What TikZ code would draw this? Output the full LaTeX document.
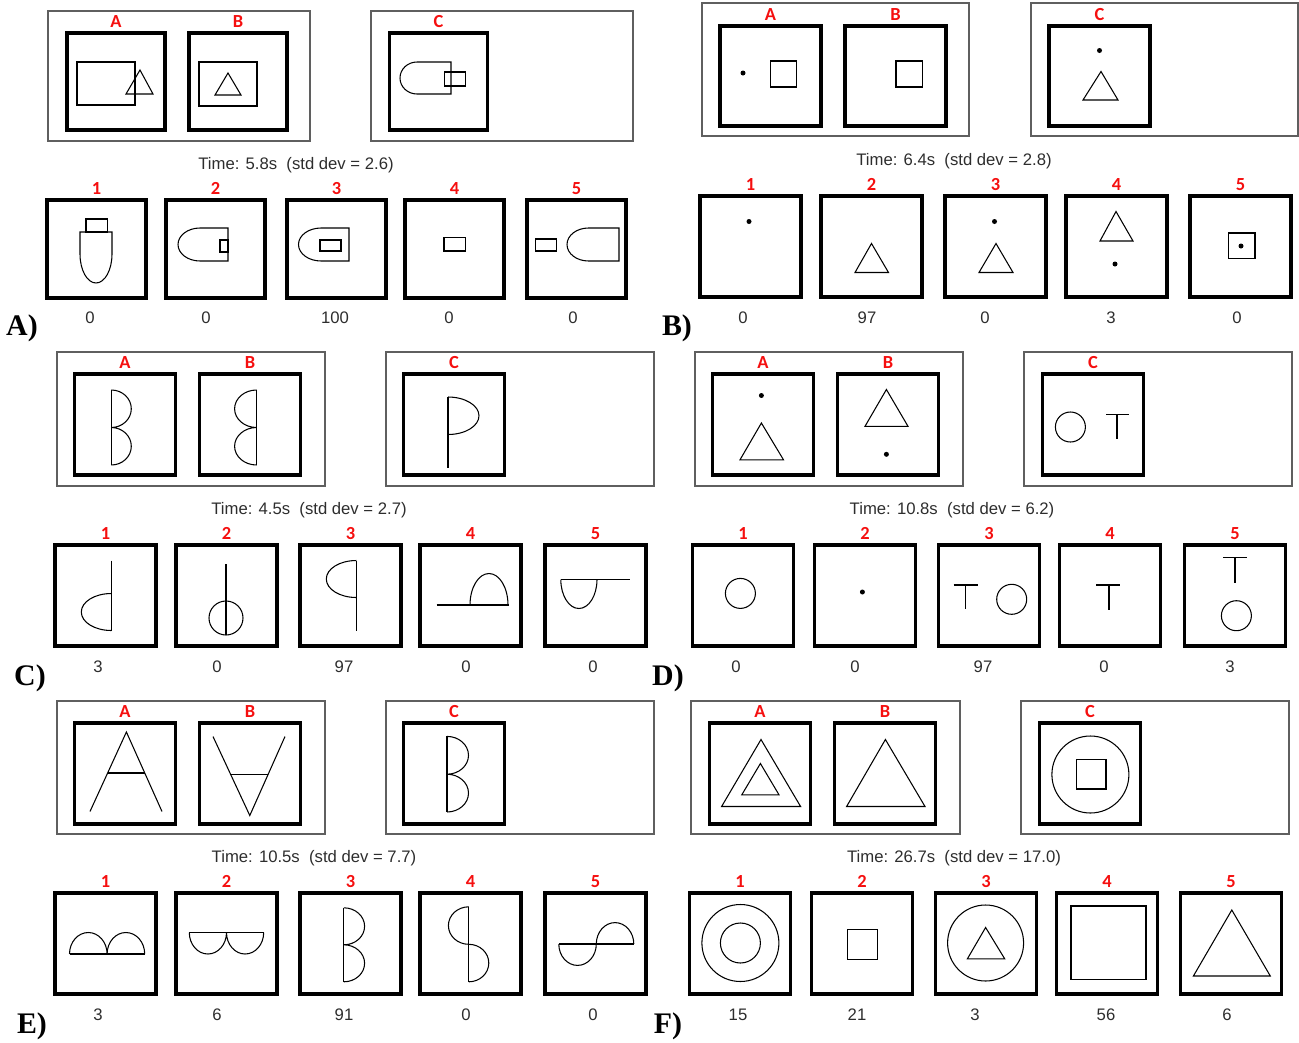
\documentclass[tikz,border=0pt]{standalone}
\usepackage{fontspec}
\setmainfont{Liberation Serif}
\setsansfont{Liberation Sans}
\newfontfamily\tagfont{Carlito}
\usetikzlibrary{calc, positioning}

\definecolor{tagred}{RGB}{245,15,15}
\definecolor{framegray}{RGB}{95,95,95}
\definecolor{textgray}{RGB}{45,45,45}

\tikzset{
  cell/.style={draw, line width=2.2pt, inner sep=0pt, outer sep=0pt,
    minimum width=2.02cm, minimum height=2.01cm},
  tag/.style={text=tagred, font=\tagfont\bfseries\fontsize{10.5}{11}\selectfont, inner sep=0pt},
  val/.style={text=textgray, font=\sffamily\fontsize{9.5}{11}\selectfont, inner sep=0pt},
  panel/.style={font=\rmfamily\bfseries\fontsize{17}{18}\selectfont, inner sep=0pt},
  frame/.style={draw=framegray, line width=0.7pt}
}

\begin{document}
\begin{tikzpicture}[x=0.02cm, y=-0.02cm, line width=0.6pt]
\useasboundingbox (0,0) rectangle (1299,1042);

% ================= A) =================
\draw[frame] (48,11) rectangle (310,141);
\draw[frame] (371,11) rectangle (633,141);
\foreach \n/\x in {a/116, b/238, c/438.5}
  \node[cell, minimum width=1.96cm, minimum height=1.94cm] (A-\n) at (\x,81.5) {};
\foreach \i/\x in {1/96.5, 2/215.5, 3/336.5, 4/454.5, 5/576.5}
  \node[cell, minimum width=1.98cm, minimum height=1.96cm] (A-\i) at (\x,249) {};
\foreach \n/\t in {a/A, b/B, c/C}
  \node[tag, above=0.1cm of A-\n] (A-l\n) {\t};
\foreach \i in {1,...,5}
  \node[tag, above=0.1cm of A-\i] (A-l\i) {\i};
\node[val] (A-time) at (296,165) {Time: 5.8s~~(std dev = 2.6)};
\foreach \i/\x/\v in {1/90/0, 2/206/0, 3/335/100, 4/449/0, 5/573/0}
  \node[val] (A-v\i) at (\x,318) {\v};
\node[panel] (A-name) at (22,328) {A)};

% problem
\begin{scope}[shift={(A-a.center)}]
  \draw (-39,-19.5) rectangle (19,23.5);
  \draw (24,-11.5) -- (37,12.5) -- (10,12.5) -- cycle;
\end{scope}
\begin{scope}[shift={(A-b.center)}]
  \draw (-39,-19.5) rectangle (19,24.5);
  \draw (-10,-8.5) -- (3,13.5) -- (-23,13.5) -- cycle;
\end{scope}
\begin{scope}[shift={(A-c.center)}]
  \draw (12.5,-19.5) -- (-21.5,-19.5) arc(270:90:17 and 16) -- (12.5,12.5) -- cycle;
  \draw (6,-9.5) rectangle (27,4.5);
\end{scope}
% answers
\begin{scope}[shift={(A-1.center)}]
  \draw (-10.5,-30) rectangle (11,-17);
  \draw (-16.5,-17) -- (15.5,-17) -- (15.5,5) arc(0:180:16 and 29) -- cycle;
\end{scope}
\begin{scope}[shift={(A-2.center)}]
  \draw (12.5,-21) -- (-15.5,-21) arc(270:90:22 and 16.5) -- (12.5,12) -- cycle;
  \draw (4.5,-9) rectangle (12.5,3);
\end{scope}
\begin{scope}[shift={(A-3.center)}]
  \draw (12.5,-21) -- (-15.5,-21) arc(270:90:22.5 and 16.5) -- (12.5,12) -- cycle;
  \draw (-16.5,-9) rectangle (4.5,2);
\end{scope}
\begin{scope}[shift={(A-4.center)}]
  \draw (-10.5,-11.5) rectangle (11,2);
\end{scope}
\begin{scope}[shift={(A-5.center)}]
  \draw (-41,-10) rectangle (-20,2);
  \draw (42.5,-21) -- (12,-21) arc(270:90:21.5 and 16.5) -- (42.5,12) -- cycle;
\end{scope}

% ================= B) =================
\draw[frame] (702,3) rectangle (969,136);
\draw[frame] (1031,3) rectangle (1298,136);
\foreach \n/\x in {a/770.5, b/895.5, c/1099.5}
  \node[cell, minimum height=2cm] (B-\n) at (\x,76) {};
\foreach \i/\x in {1/750.5, 2/871.5, 3/995.5, 4/1116.5, 5/1240.5}
  \node[cell] (B-\i) at (\x,246.5) {};
\foreach \n/\t in {a/A, b/B, c/C}
  \node[tag, above=0.1cm of B-\n] (B-l\n) {\t};
\foreach \i in {1,...,5}
  \node[tag, above=0.1cm of B-\i] (B-l\i) {\i};
\node[val] (B-time) at (954,161) {Time: 6.4s~~(std dev = 2.8)};
\foreach \i/\x/\v in {1/743/0, 2/867/97, 3/985/0, 4/1111/3, 5/1237/0}
  \node[val] (B-v\i) at (\x,318) {\v};
\node[panel] (B-name) at (677,328) {B)};

\begin{scope}[shift={(B-a.center)}]
  \fill (-27.5,-3) circle (2.5);
  \draw (0,-15) rectangle (26,11);
\end{scope}
\begin{scope}[shift={(B-b.center)}]
  \draw (0.5,-15) rectangle (27,11);
\end{scope}
\begin{scope}[shift={(B-c.center)}]
  \fill (0,-25.5) circle (2.5);
  \draw (1.5,-4.5) -- (18.5,24) -- (-16.5,24) -- cycle;
\end{scope}
\begin{scope}[shift={(B-1.center)}]
  \fill (-1.5,-25) circle (2.5);
\end{scope}
\begin{scope}[shift={(B-2.center)}]
  \draw (0,-3) -- (17,26) -- (-16.5,26) -- cycle;
\end{scope}
\begin{scope}[shift={(B-3.center)}]
  \fill (-1,-25) circle (2.5);
  \draw (0.5,-3) -- (17.5,26) -- (-16.5,26) -- cycle;
\end{scope}
\begin{scope}[shift={(B-4.center)}]
  \draw (-0.5,-35) -- (16.5,-5.5) -- (-16.5,-5.5) -- cycle;
  \fill (-1.5,17.5) circle (2.5);
\end{scope}
\begin{scope}[shift={(B-5.center)}]
  \draw (-12,-13.5) rectangle (14.5,12);
  \fill (0.5,-0.5) circle (2.5);
\end{scope}

% ================= C) =================
\draw[frame] (57,352) rectangle (325,486);
\draw[frame] (386,352) rectangle (654,486);
\foreach \n/\x in {a/125, b/250, c/454}
  \node[cell] (C-\n) at (\x,424.5) {};
\foreach \i/\x in {1/105.5, 2/226.5, 3/350.5, 4/470.5, 5/595.5}
  \node[cell] (C-\i) at (\x,595.5) {};
\foreach \n/\t in {a/A, b/B, c/C}
  \node[tag, above=0.1cm of C-\n] (C-l\n) {\t};
\foreach \i in {1,...,5}
  \node[tag, above=0.1cm of C-\i] (C-l\i) {\i};
\node[val] (C-time) at (309,510) {Time: 4.5s~~(std dev = 2.7)};
\foreach \i/\x/\v in {1/98/3, 2/217/0, 3/344/97, 4/466/0, 5/593/0}
  \node[val] (C-v\i) at (\x,667) {\v};
\node[panel] (C-name) at (30,678) {C)};

\begin{scope}[shift={(C-a.center)}]
  \draw (-13.7,-34.5) -- (-13.7,40.5);
  \draw (-13.7,-34.5) arc(270:450:20 and 18.75) arc(270:450:20 and 18.75);
\end{scope}
\begin{scope}[shift={(C-b.center)}]
  \draw (6.6,-34.5) -- (6.6,40.5);
  \draw (6.6,-34.5) arc(270:90:22 and 18.75) arc(270:90:22 and 18.75);
\end{scope}
\begin{scope}[shift={(C-c.center)}]
  \draw (-6,-27.5) -- (-6,43);
  \draw (-6,-27.5) arc(270:450:31 and 18.75);
\end{scope}
\begin{scope}[shift={(C-1.center)}]
  \draw (5.8,-35) -- (5.8,35);
  \draw (5.8,-2) arc(270:90:30 and 18.5);
\end{scope}
\begin{scope}[shift={(C-2.center)}]
  \draw (-0.5,-31.5) -- (-0.5,39.5);
  \draw (-0.5,22.5) circle (17);
\end{scope}
\begin{scope}[shift={(C-3.center)}]
  \draw (5.8,-35) -- (5.8,35);
  \draw (5.8,-35) arc(270:90:30 and 18.5);
\end{scope}
\begin{scope}[shift={(C-4.center)}]
  \draw (-33.8,9.5) -- (38,9.5);
  \draw (-0.5,9.5) arc(180:360:19 and 31.5);
\end{scope}
\begin{scope}[shift={(C-5.center)}]
  \draw (-34.7,-16) -- (34.2,-16);
  \draw (-34.7,-16) arc(180:0:18.1 and 29);
\end{scope}

% ================= D) =================
\draw[frame] (695,352) rectangle (963,486);
\draw[frame] (1024,352) rectangle (1292,486);
\foreach \n/\x in {a/763, b/888, c/1093}
  \node[cell] (D-\n) at (\x,424.5) {};
\foreach \i/\x in {1/743, 2/865, 3/989, 4/1110, 5/1235}
  \node[cell] (D-\i) at (\x,595.5) {};
\foreach \n/\t in {a/A, b/B, c/C}
  \node[tag, above=0.1cm of D-\n] (D-l\n) {\t};
\foreach \i in {1,...,5}
  \node[tag, above=0.1cm of D-\i] (D-l\i) {\i};
\node[val] (D-time) at (952,510) {Time: 10.8s~~(std dev = 6.2)};
\foreach \i/\x/\v in {1/736/0, 2/855/0, 3/983/97, 4/1104/0, 5/1230/3}
  \node[val] (D-v\i) at (\x,667) {\v};
\node[panel] (D-name) at (668,678) {D)};

\begin{scope}[shift={(D-a.center)}]
  \fill (-1.6,-29) circle (2.5);
  \draw (-1.6,-1.5) -- (20.5,35.3) -- (-23,35.3) -- cycle;
\end{scope}
\begin{scope}[shift={(D-b.center)}]
  \draw (-1.6,-35) -- (20,1.8) -- (-23,1.8) -- cycle;
  \fill (-1.6,29.8) circle (2.5);
\end{scope}
\begin{scope}[shift={(D-c.center)}]
  \draw (-22.6,2.5) circle (15);
  \draw (13,-9.8) -- (35.5,-9.8) (24,-9.8) -- (24,14.5);
\end{scope}
\begin{scope}[shift={(D-1.center)}]
  \draw (-2.6,-2.1) circle (15);
\end{scope}
\begin{scope}[shift={(D-2.center)}]
  \fill (-2.6,-3.5) circle (2.5);
\end{scope}
\begin{scope}[shift={(D-3.center)}]
  \draw (-35.3,-10.5) -- (-11,-10.5) (-23.2,-10.5) -- (-23.2,13.5);
  \draw (22.7,3.8) circle (15);
\end{scope}
\begin{scope}[shift={(D-4.center)}]
  \draw (-14,-10.5) -- (10,-10.5) (-1,-10.5) -- (-1,14);
\end{scope}
\begin{scope}[shift={(D-5.center)}]
  \draw (-12,-38) -- (12,-38) (0,-38) -- (0,-12.7);
  \draw (1.4,20.2) circle (15);
\end{scope}

% ================= E) =================
\draw[frame] (57,701) rectangle (325,834);
\draw[frame] (386,701) rectangle (654,834);
\foreach \n/\x in {a/125, b/250, c/454}
  \node[cell] (E-\n) at (\x,773.5) {};
\foreach \i/\x in {1/105.5, 2/226.5, 3/350.5, 4/470.5, 5/595.5}
  \node[cell] (E-\i) at (\x,943.5) {};
\foreach \n/\t in {a/A, b/B, c/C}
  \node[tag, above=0.1cm of E-\n] (E-l\n) {\t};
\foreach \i in {1,...,5}
  \node[tag, above=0.1cm of E-\i] (E-l\i) {\i};
\node[val] (E-time) at (314,858) {Time: 10.5s~~(std dev = 7.7)};
\foreach \i/\x/\v in {1/98/3, 2/217/6, 3/344/91, 4/466/0, 5/593/0}
  \node[val] (E-v\i) at (\x,1015) {\v};
\node[panel] (E-name) at (32,1026) {E)};

\begin{scope}[shift={(E-a.center)}]
  \draw (-35,38) -- (1.4,-41.5) -- (37,38);
  \draw (-17.4,-0.5) -- (19.8,-0.5);
\end{scope}
\begin{scope}[shift={(E-b.center)}]
  \draw (-37,-37) -- (-0.2,42) -- (35,-37);
  \draw (-19.2,1.3) -- (17.9,1.3);
\end{scope}
\begin{scope}[shift={(E-c.center)}]
  \draw (-7,-37.1) -- (-7,38.5);
  \draw (-7,-37.1) arc(270:450:21.5 and 18.9) arc(270:450:21.5 and 18.9);
\end{scope}
\begin{scope}[shift={(E-1.center)}]
  \draw (-36,10.5) -- (39.2,10.5);
  \draw (-36,10.5) arc(180:360:18.8 and 21.5) arc(180:360:18.8 and 21.5);
\end{scope}
\begin{scope}[shift={(E-2.center)}]
  \draw (-37.2,-11) -- (37.1,-11);
  \draw (-37.2,-11) arc(180:0:18.6 and 21.5) arc(180:0:18.6 and 21.5);
\end{scope}
\begin{scope}[shift={(E-3.center)}]
  \draw (-6.7,-35.7) -- (-6.7,38.3);
  \draw (-6.7,-35.7) arc(270:450:20.8 and 18.5) arc(270:450:20.8 and 18.5);
\end{scope}
\begin{scope}[shift={(E-4.center)}]
  \draw (-1.7,-36.7) -- (-1.7,38.3);
  \draw (-1.7,-36.7) arc(270:90:20.4 and 18.75) arc(270:450:20 and 18.75);
\end{scope}
\begin{scope}[shift={(E-5.center)}]
  \draw (-36.7,0.5) -- (38.3,0.5);
  \draw (-36.7,0.5) arc(180:0:18.75 and 21.4) arc(180:360:18.75 and 21.4);
\end{scope}

% ================= F) =================
\draw[frame] (691,701) rectangle (960,834);
\draw[frame] (1021,701) rectangle (1289,834);
\foreach \n/\x in {a/760, b/885, c/1090}
  \node[cell] (F-\n) at (\x,773.5) {};
\foreach \i/\x in {1/740, 2/862, 3/986, 4/1107, 5/1231}
  \node[cell] (F-\i) at (\x,943.5) {};
\foreach \n/\t in {a/A, b/B, c/C}
  \node[tag, above=0.1cm of F-\n] (F-l\n) {\t};
\foreach \i in {1,...,5}
  \node[tag, above=0.1cm of F-\i] (F-l\i) {\i};
\node[val] (F-time) at (954,858) {Time: 26.7s~~(std dev = 17.0)};
\foreach \i/\x/\v in {1/738/15, 2/857/21, 3/975/3, 4/1106/56, 5/1227/6}
  \node[val] (F-v\i) at (\x,1015) {\v};
\node[panel] (F-name) at (668,1026) {F)};

\begin{scope}[shift={(F-a.center)}]
  \draw (1,-34) -- (40.6,33) -- (-38.4,33) -- cycle;
  \draw (0.4,-10) -- (19,21.3) -- (-18.2,21.3) -- cycle;
\end{scope}
\begin{scope}[shift={(F-b.center)}]
  \draw (0.4,-34) -- (40,33) -- (-38.4,33) -- cycle;
\end{scope}
\begin{scope}[shift={(F-c.center)}]
  \draw (0.4,1) circle (38.5);
  \draw (-13.5,-14) rectangle (16,15.5);
\end{scope}
\begin{scope}[shift={(F-1.center)}]
  \draw (0.4,-0.5) circle (38.5);
  \draw (0.4,-0.5) circle (20);
\end{scope}
\begin{scope}[shift={(F-2.center)}]
  \draw (-14.5,-13.7) rectangle (15.8,16.3);
\end{scope}
\begin{scope}[shift={(F-3.center)}]
  \draw (-0.4,-0.5) circle (38);
  \draw (-0.4,-16) -- (18.7,15.3) -- (-18.6,15.3) -- cycle;
\end{scope}
\begin{scope}[shift={(F-4.center)}]
  \draw (-36,-37.5) rectangle (39,36);
\end{scope}
\begin{scope}[shift={(F-5.center)}]
  \draw (0.8,-33.5) -- (39.3,32.5) -- (-37.6,32.5) -- cycle;
\end{scope}

\end{tikzpicture}
\end{document}
